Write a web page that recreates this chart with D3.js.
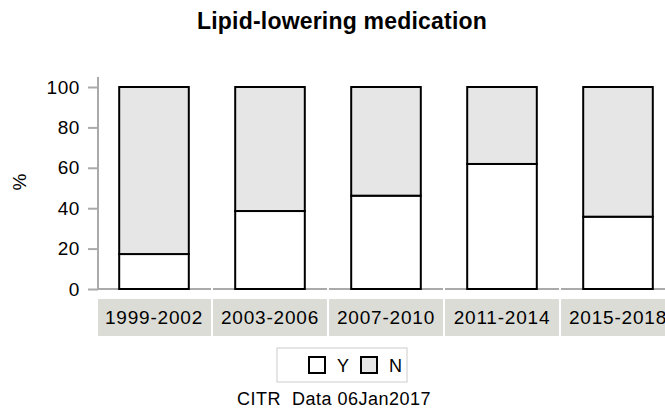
<!DOCTYPE html>
<html>
<head>
<meta charset="utf-8">
<script src="https://cdn.jsdelivr.net/npm/d3@7"></script>
<style>
body { margin: 0; background: #fff; }
text { font-family: "Liberation Sans", Arial, sans-serif; }
</style>
</head>
<body>
<div id="chart"></div>
<script>
// data
var periods = ["1999-2002", "2003-2006", "2007-2010", "2011-2014", "2015-2018"];
var yesPct = [17.3, 38.6, 46.2, 61.9, 35.8];
var noPct = [82.7, 61.4, 53.8, 38.1, 64.2];
var yTicks = [0, 20, 40, 60, 80, 100];
var legendKeys = ["Y", "N"];
var colors = {Y: "#ffffff", N: "#e6e6e6"};

var W = 665, H = 416;

var svg = d3.select("#chart").append("svg")
    .attr("width", W)
    .attr("height", H);

var y = d3.scaleLinear()
    .domain([0, 100])
    .range([289, 87]);

var x = d3.scaleBand()
    .domain(periods)
    .range([96, 676])
    .paddingInner(0.4)
    .paddingOuter(0.2);

var xBand = d3.scaleBand()
    .domain(periods)
    .range([96, 676]);

// title
svg.append("text")
    .attr("x", 342)
    .attr("y", 29)
    .attr("text-anchor", "middle")
    .style("font-size", "23px")
    .style("font-weight", "bold")
    .style("letter-spacing", "0.2px")
    .text("Lipid-lowering medication");

// y axis
var yAxis = svg.append("g")
    .attr("transform", "translate(98,0)")
    .call(d3.axisLeft(y).tickValues(yTicks).tickSize(10).tickPadding(8));
yAxis.select(".domain").remove();
yAxis.selectAll(".tick line").attr("stroke", "#aaaaaa").attr("stroke-width", 2);
yAxis.selectAll(".tick text")
    .attr("fill", "#000")
    .style("font-size", "19px")
    .style("letter-spacing", "0.6px")
    .style("font-family", "'Liberation Sans', Arial, sans-serif");

svg.append("line")
    .attr("x1", 98).attr("x2", 98)
    .attr("y1", 77).attr("y2", 290)
    .attr("stroke", "#aaaaaa")
    .attr("stroke-width", 2);

svg.append("text")
    .attr("transform", "translate(26,182) rotate(-90)")
    .attr("text-anchor", "middle")
    .style("font-size", "19px")
    .text("%");

// x axis baseline, one piece per band
svg.selectAll(".base")
    .data(periods)
    .join("line")
    .attr("class", "base")
    .attr("x1", d => Math.max(98, xBand(d) + 1))
    .attr("x2", d => xBand(d) + xBand.step() - 1)
    .attr("y1", 289).attr("y2", 289)
    .attr("stroke", "#aaaaaa")
    .attr("stroke-width", 2);

// category label boxes
svg.selectAll(".catbox")
    .data(periods)
    .join("rect")
    .attr("class", "catbox")
    .attr("x", d => Math.max(98, xBand(d) + 1))
    .attr("width", d => xBand(d) + xBand.step() - 1 - Math.max(98, xBand(d) + 1))
    .attr("y", 299)
    .attr("height", 37)
    .attr("fill", "#dcdcd6");

svg.selectAll(".catlabel")
    .data(periods)
    .join("text")
    .attr("class", "catlabel")
    .attr("x", d => xBand(d) + xBand.step() / 2)
    .attr("y", 324)
    .attr("text-anchor", "middle")
    .style("font-size", "19px")
    .style("letter-spacing", "0.8px")
    .text(d => d);

// stacked bars
var rows = periods.map((p, i) => ({period: p, Y: yesPct[i], N: noPct[i]}));
var stacked = d3.stack().keys(legendKeys)(rows);

svg.append("g")
    .selectAll("g")
    .data(stacked)
    .join("g")
    .attr("fill", d => colors[d.key])
    .selectAll("rect")
    .data(d => d)
    .join("rect")
    .attr("x", d => x(d.data.period))
    .attr("width", x.bandwidth())
    .attr("y", d => y(d[1]))
    .attr("height", d => y(d[0]) - y(d[1]))
    .attr("stroke", "#000")
    .attr("stroke-width", 2);

// legend
var legend = svg.append("g");
legend.append("rect")
    .attr("x", 277).attr("y", 348)
    .attr("width", 130).attr("height", 34)
    .attr("fill", "#fff")
    .attr("stroke", "#cccccc")
    .attr("stroke-width", 1);

var legendX = d3.scalePoint()
    .domain(legendKeys)
    .range([309, 361]);

legend.selectAll(".sw")
    .data(legendKeys)
    .join("rect")
    .attr("class", "sw")
    .attr("x", d => legendX(d))
    .attr("y", 357)
    .attr("width", 16).attr("height", 16)
    .attr("fill", d => colors[d])
    .attr("stroke", "#000")
    .attr("stroke-width", 2);

legend.selectAll(".lt")
    .data(legendKeys)
    .join("text")
    .attr("class", "lt")
    .attr("x", d => legendX(d) + 28)
    .attr("y", 372)
    .style("font-size", "18px")
    .text(d => d);

// footer
svg.append("text")
    .attr("x", 334)
    .attr("y", 405)
    .attr("text-anchor", "middle")
    .style("font-size", "18px")
    .style("letter-spacing", "0.5px")
    .style("white-space", "pre")
    .text("CITR  Data 06Jan2017");
</script>
</body>
</html>
